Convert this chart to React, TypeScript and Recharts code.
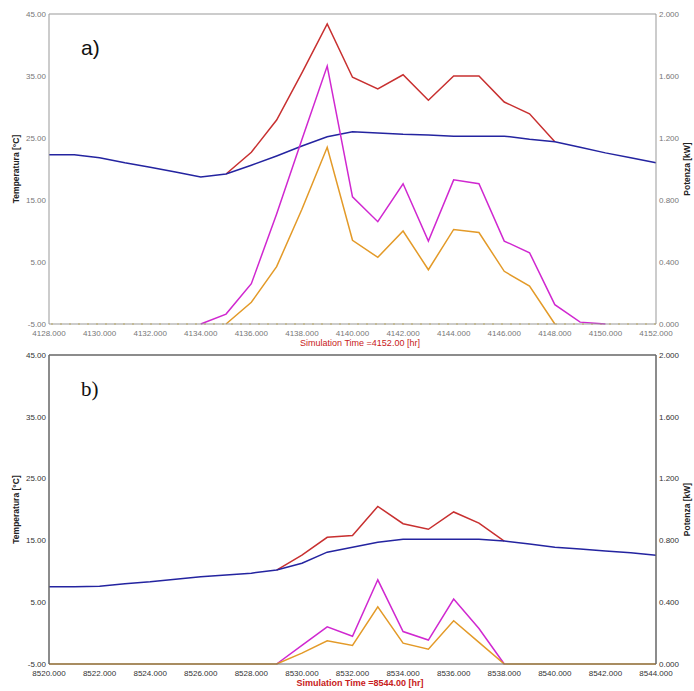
import React from 'react';
import { LineChart, Line, XAxis, YAxis, ReferenceLine } from 'recharts';

// panel a) hours 4128 - 4152
const hoursA = [4128, 4129, 4130, 4131, 4132, 4133, 4134, 4135, 4136, 4137, 4138, 4139, 4140, 4141, 4142, 4143, 4144, 4145, 4146, 4147, 4148, 4149, 4150, 4151, 4152];
const airA = [22.3, 22.3, 21.8, 21.0, 20.3, 19.5, 18.7, 19.2, 20.6, 22.1, 23.7, 25.2, 26.0, 25.8, 25.6, 25.5, 25.3, 25.3, 25.3, 24.8, 24.4, 23.5, 22.6, 21.8, 21.0];
const tempA = [null, null, null, null, null, null, null, 19.2, 22.7, 27.9, 35.5, 43.4, 34.8, 32.9, 35.2, 31.1, 35.0, 35.0, 30.8, 28.9, 24.4, null, null, null, null];
const magA = [null, null, null, null, null, null, 0, 0.064, 0.26, 0.71, 1.19, 1.664, 0.82, 0.66, 0.905, 0.535, 0.93, 0.905, 0.535, 0.46, 0.125, 0.012, 0, null, null];
const orA = [null, null, null, null, null, null, null, 0, 0.14, 0.37, 0.74, 1.14, 0.54, 0.43, 0.6, 0.35, 0.61, 0.59, 0.34, 0.244, 0, null, null, null, null];

// panel b) hours 8520 - 8544
const hoursB = [8520, 8521, 8522, 8523, 8524, 8525, 8526, 8527, 8528, 8529, 8530, 8531, 8532, 8533, 8534, 8535, 8536, 8537, 8538, 8539, 8540, 8541, 8542, 8543, 8544];
const airB = [7.5, 7.5, 7.6, 8.0, 8.3, 8.7, 9.1, 9.4, 9.7, 10.2, 11.3, 13.1, 13.9, 14.7, 15.2, 15.2, 15.2, 15.2, 14.9, 14.4, 13.9, 13.6, 13.3, 13.0, 12.6];
const tempB = [null, null, null, null, null, null, null, null, null, 10.2, 12.6, 15.5, 15.8, 20.5, 17.7, 16.8, 19.6, 17.8, 14.9, null, null, null, null, null, null];
const magB = [null, null, null, null, null, null, null, null, null, 0, 0.12, 0.24, 0.18, 0.545, 0.21, 0.155, 0.42, 0.23, 0, null, null, null, null, null, null];
const orB = [0, 0, 0, 0, 0, 0, 0, 0, 0, 0, 0.07, 0.15, 0.12, 0.37, 0.135, 0.096, 0.28, 0.14, 0, 0, 0, 0, 0, 0, 0];

const tempTicks = [-5, 5, 15, 25, 35, 45];
const powerTicks = [0, 0.4, 0.8, 1.2, 1.6, 2.0];

const buildRows = (hours: number[], air: any[], temp: any[], mag: any[], orange: any[]) =>
  hours.map((h, i) => ({ h, air: air[i], temp: temp[i], mag: mag[i], orange: orange[i] }));

const rowsA = buildRows(hoursA, airA, tempA, magA, orA);
const rowsB = buildRows(hoursB, airB, tempB, magB, orB);

const FONT = '"Liberation Sans", Arial, sans-serif';

const Panel = ({ rows, hours, title, letter, letterFont, top, height, plotTop, axisH, axisColor, textColor, bold, zeroDots }: any) => {
  const xTicks = hours.filter((h: number, i: number) => i % 2 === 0);
  const tickStyle = { fontSize: 8, fill: textColor, fontFamily: FONT };
  return (
    <div style={{ position: 'absolute', left: 0, top, width: 694, height }}>
      <LineChart width={694} height={height} data={rows} margin={{ top: plotTop, right: 0, bottom: 0, left: 0 }}>
        <XAxis
          dataKey="h"
          type="number"
          domain={[hours[0], hours[hours.length - 1]]}
          ticks={xTicks}
          tickFormatter={(v: number) => v.toFixed(3)}
          tick={tickStyle}
          tickLine={false}
          tickSize={3}
          tickMargin={3}
          height={axisH}
          stroke={axisColor}
          interval={0}
          label={({ viewBox }: any) => (
            <text
              x={360}
              y={viewBox.y + 22}
              textAnchor="middle"
              fontSize={9}
              fontFamily={FONT}
              fontWeight={bold ? 'bold' : 'normal'}
              fill="#c82020"
            >
              {title}
            </text>
          )}
        />
        <YAxis
          yAxisId="t"
          domain={[-5, 45]}
          ticks={tempTicks}
          tickFormatter={(v: number) => v.toFixed(2)}
          tick={tickStyle}
          tickLine={false}
          tickSize={2}
          tickMargin={1}
          width={49}
          stroke={axisColor}
          strokeWidth={bold ? 1.5 : 1}
          interval={0}
          label={({ viewBox }: any) => (
            <text
              x={16}
              y={viewBox.y + viewBox.height / 2}
              transform={`rotate(-90, 16, ${viewBox.y + viewBox.height / 2})`}
              textAnchor="middle"
              dominantBaseline="central"
              fontSize={8.5}
              fontWeight="bold"
              fontFamily={FONT}
              fill="#222"
            >
              Temperatura [°C]
            </text>
          )}
        />
        <YAxis
          yAxisId="p"
          orientation="right"
          domain={[0, 2]}
          ticks={powerTicks}
          tickFormatter={(v: number) => v.toFixed(3)}
          tick={tickStyle}
          tickLine={false}
          tickSize={2}
          tickMargin={1}
          width={38}
          stroke={axisColor}
          strokeWidth={bold ? 1.5 : 1}
          interval={0}
          label={({ viewBox }: any) => (
            <text
              x={687}
              y={viewBox.y + viewBox.height / 2}
              transform={`rotate(-90, 687, ${viewBox.y + viewBox.height / 2})`}
              textAnchor="middle"
              dominantBaseline="central"
              fontSize={8.5}
              fontWeight="bold"
              fontFamily={FONT}
              fill="#222"
            >
              Potenza [kW]
            </text>
          )}
        />
        <ReferenceLine yAxisId="t" y={45} stroke={axisColor} strokeWidth={bold ? 1.5 : 1} />
        {zeroDots && <ReferenceLine yAxisId="p" y={0} stroke="#e8d070" strokeDasharray="2 7" strokeWidth={1.5} />}
        <Line yAxisId="t" dataKey="temp" stroke="#c83030" strokeWidth={1.5} dot={false} isAnimationActive={false} connectNulls={false} />
        <Line yAxisId="t" dataKey="air" stroke="#2424a0" strokeWidth={1.5} dot={false} isAnimationActive={false} />
        <Line yAxisId="p" dataKey="mag" stroke="#d028d0" strokeWidth={1.5} dot={false} isAnimationActive={false} connectNulls={false} />
        <Line yAxisId="p" dataKey="orange" stroke="#e39a28" strokeWidth={1.5} dot={false} isAnimationActive={false} connectNulls={false} />
      </LineChart>
      <span
        style={{
          position: 'absolute',
          left: 81,
          top: plotTop + 22,
          fontFamily: letterFont,
          fontSize: 21,
          lineHeight: '24px',
          color: '#111',
        }}
      >
        {letter}
      </span>
    </div>
  );
};

export default function App() {
  return (
    <div style={{ position: 'absolute', left: 0, top: 0, width: 694, height: 691, background: '#fff' }}>
      <Panel
        rows={rowsA}
        hours={hoursA}
        title="Simulation Time =4152.00 [hr]"
        letter="a)"
        letterFont={FONT}
        top={0}
        height={352}
        plotTop={14}
        axisH={28}
        axisColor="#999"
        textColor="#777"
        bold={false}
        zeroDots={true}
      />
      <Panel
        rows={rowsB}
        hours={hoursB}
        title="Simulation Time =8544.00 [hr]"
        letter="b)"
        letterFont='"Liberation Serif", serif'
        top={340}
        height={351}
        plotTop={15}
        axisH={27}
        axisColor="#666"
        textColor="#333"
        bold={true}
        zeroDots={false}
      />
    </div>
  );
}
